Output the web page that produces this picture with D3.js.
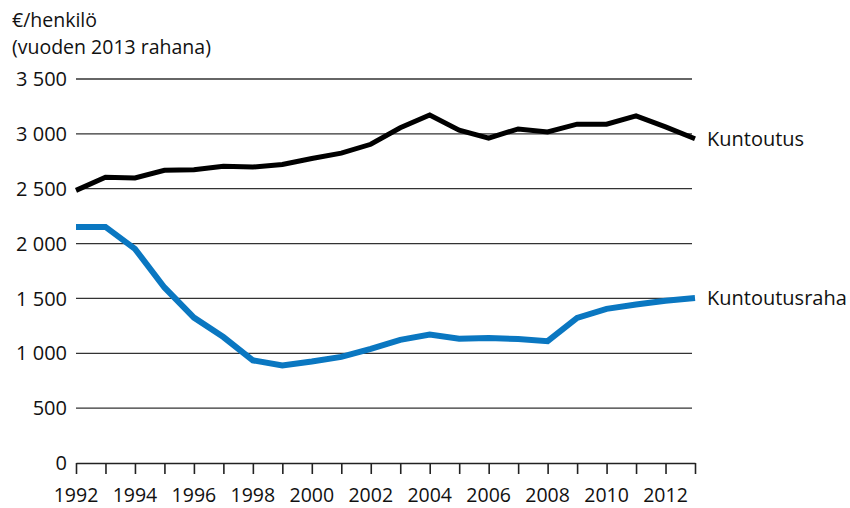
<!DOCTYPE html>
<html>
<head>
<meta charset="utf-8">
<script src="https://cdn.jsdelivr.net/npm/d3@7"></script>
<style>
  body { margin: 0; background: #fff; }
  svg text { font-family: "Open Sans", "Noto Sans", sans-serif; fill: #111; }
</style>
</head>
<body>
<div id="chart"></div>
<script>
// years and series values (euro per person, 2013 money)
const years = [1992, 1993, 1994, 1995, 1996, 1997, 1998, 1999, 2000, 2001, 2002,
               2003, 2004, 2005, 2006, 2007, 2008, 2009, 2010, 2011, 2012, 2013];

const kuntoutus = [2485, 2604, 2598, 2668, 2673, 2704, 2697, 2721, 2776, 2824, 2905,
                   3055, 3172, 3034, 2960, 3045, 3018, 3088, 3088, 3164, 3064, 2955];

const kuntoutusraha = [2152, 2152, 1952, 1600, 1325, 1148, 936, 890, 925, 967, 1040,
                       1122, 1170, 1133, 1140, 1130, 1110, 1322, 1405, 1445, 1478, 1503];

const yTicks = [0, 500, 1000, 1500, 2000, 2500, 3000, 3500];
const xLabelYears = [1992, 1994, 1996, 1998, 2000, 2002, 2004, 2006, 2008, 2010, 2012];

const width = 850, height = 508;
const margin = { top: 79, right: 155, bottom: 45, left: 76 };

const svg = d3.select("#chart").append("svg")
    .attr("width", width)
    .attr("height", height);

const x = d3.scaleLinear()
    .domain([1992, 2013])
    .range([margin.left, width - margin.right]);

const y = d3.scaleLinear()
    .domain([0, 3500])
    .range([height - margin.bottom, margin.top]);

const fmt = d => d3.format(",")(d).replace(",", " ");

// gridlines
svg.append("g")
    .selectAll("line")
    .data(yTicks.filter(d => d > 0))
    .join("line")
    .attr("x1", margin.left)
    .attr("x2", width - margin.right - 3)
    .attr("y1", d => y(d))
    .attr("y2", d => y(d))
    .attr("stroke", "#333")
    .attr("stroke-width", 1.3);

// y labels
svg.append("g")
    .selectAll("text")
    .data(yTicks)
    .join("text")
    .attr("x", 67)
    .attr("y", d => y(d))
    .attr("dy", "0.36em")
    .attr("text-anchor", "end")
    .attr("font-size", 20)
    .text(fmt);

// x axis with ticks going down
const xAxis = d3.axisBottom(x)
    .tickValues(years)
    .tickSize(11)
    .tickSizeOuter(0)
    .tickFormat("");

const gx = svg.append("g")
    .attr("transform", `translate(0,${y(0)})`)
    .call(xAxis);
gx.select(".domain").attr("stroke", "#222").attr("stroke-width", 1.6);
gx.selectAll(".tick line").attr("stroke", "#222").attr("stroke-width", 1.6);

svg.append("g")
    .selectAll("text")
    .data(xLabelYears)
    .join("text")
    .attr("x", d => x(d))
    .attr("y", 502)
    .attr("text-anchor", "middle")
    .attr("font-size", 19.5)
    .text(d => d);

// lines
const line = d3.line()
    .x((d, i) => x(years[i]))
    .y(d => y(d));

svg.append("path")
    .datum(kuntoutusraha)
    .attr("fill", "none")
    .attr("stroke", "#0a77c1")
    .attr("stroke-width", 6)
    .attr("stroke-linejoin", "miter")
    .attr("d", line);

svg.append("path")
    .datum(kuntoutus)
    .attr("fill", "none")
    .attr("stroke", "#000")
    .attr("stroke-width", 5)
    .attr("stroke-linejoin", "miter")
    .attr("d", line);

// series labels
svg.append("text")
    .attr("x", 707)
    .attr("y", y(2955))
    .attr("dy", "0.36em")
    .attr("font-size", 20)
    .text("Kuntoutus");

svg.append("text")
    .attr("x", 707)
    .attr("y", y(1503))
    .attr("dy", "0.36em")
    .attr("font-size", 20)
    .text("Kuntoutusraha");

// unit title
svg.append("text")
    .attr("x", 12)
    .attr("y", 27)
    .attr("font-size", 19.5)
    .text("€/henkilö");

svg.append("text")
    .attr("x", 12)
    .attr("y", 54)
    .attr("font-size", 19.5)
    .text("(vuoden 2013 rahana)");
</script>
</body>
</html>
